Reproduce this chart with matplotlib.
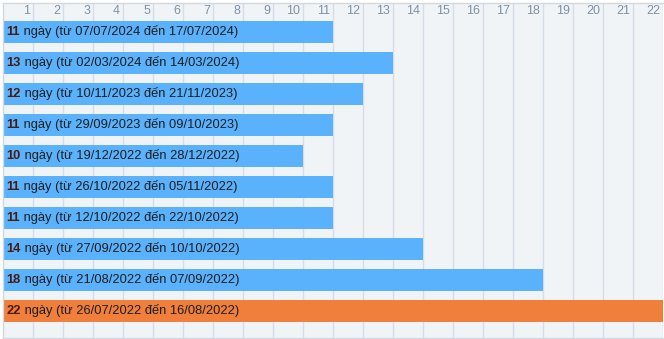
import matplotlib
matplotlib.use("Agg")
import matplotlib.pyplot as plt

plt.rcParams['font.family'] = ['Liberation Sans', 'DejaVu Sans']

# durations (days) of each streak, top to bottom
days = [11, 13, 12, 11, 10, 11, 11, 14, 18, 22]
ranges = [
    "07/07/2024 đến 17/07/2024",
    "02/03/2024 đến 14/03/2024",
    "10/11/2023 đến 21/11/2023",
    "29/09/2023 đến 09/10/2023",
    "19/12/2022 đến 28/12/2022",
    "26/10/2022 đến 05/11/2022",
    "12/10/2022 đến 22/10/2022",
    "27/09/2022 đến 10/10/2022",
    "21/08/2022 đến 07/09/2022",
    "26/07/2022 đến 16/08/2022",
]
ticks = list(range(1, 23))

blue = "#5ab2fc"
orange = "#ef7f3b"
colors = [orange if d == max(days) else blue for d in days]

fig = plt.figure(figsize=(6.64, 3.39), dpi=100)
ax = fig.add_axes([2.5 / 664, 1 / 339, 660 / 664, 335 / 339])
ax.set_facecolor("#f1f4f7")

rows = list(range(len(days)))
ax.barh(rows, days, height=0.68, color=colors, zorder=2)

ax.set_xlim(0, 22)
ax.set_ylim(9.87, -0.935)
ax.set_xticks(ticks)
ax.set_yticks([])
ax.tick_params(axis="x", length=0, labelbottom=False)
ax.grid(axis="x", color="#d3dee8", linewidth=1, zorder=1)

for s in ax.spines.values():
    s.set_color("#d0d8e0")
    s.set_linewidth(1)
ax.spines["right"].set_visible(False)

# tick numbers drawn inside the top of the plot
for t in ticks:
    ax.text(t - 0.08, -0.67, str(t), ha="right", va="center",
            fontsize=9, color="#7f91a3", zorder=3)

for i, (d, r) in enumerate(zip(days, ranges)):
    num = ax.text(0.13, i, str(d), ha="left", va="center", fontsize=9.3,
                  fontweight="bold", color="#4a1a0c", zorder=3)
    ax.annotate(f" ngày (từ {r})", xy=(1, 0), xycoords=num, va="bottom",
                ha="left", fontsize=9.3, color="#1e1e1e", zorder=3)

fig.savefig("out.png", dpi=100)
